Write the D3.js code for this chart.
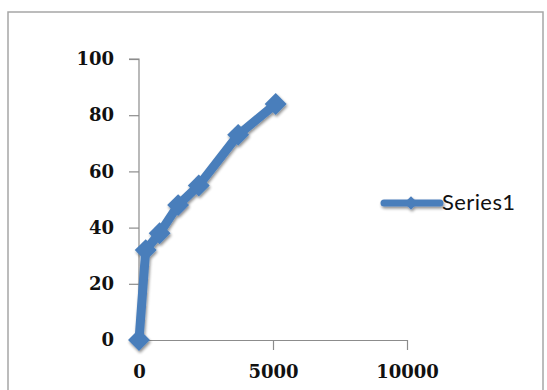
<!DOCTYPE html>
<html><head><meta charset="utf-8">
<script src="https://cdn.jsdelivr.net/npm/d3@7"></script>
<style>html,body{margin:0;padding:0;background:#fff;}svg{display:block;}</style>
</head><body>
<script>
const xValues = [0, 250, 770, 1460, 2230, 3700, 5100];
const yValues = [0, 32, 38, 48, 55, 73, 84];
const xTicks = [0, 5000, 10000];
const yTicks = [0, 20, 40, 60, 80, 100];
const seriesName = "Series1";

const W = 547, H = 390;
const svg = d3.select("body").append("svg").attr("width", W).attr("height", H);
const defs = svg.append("defs");
const f = defs.append("filter").attr("id", "sh").attr("x", "-30%").attr("y", "-30%").attr("width", "160%").attr("height", "160%");
f.append("feGaussianBlur").attr("in", "SourceAlpha").attr("stdDeviation", 1.6).attr("result", "b");
f.append("feOffset").attr("in", "b").attr("dx", 1).attr("dy", 1.5).attr("result", "o");
f.append("feComponentTransfer").attr("in", "o").attr("result", "o2").append("feFuncA").attr("type", "linear").attr("slope", 0.45);
const m = f.append("feMerge"); m.append("feMergeNode").attr("in", "o2"); m.append("feMergeNode").attr("in", "SourceGraphic");

// chart border
svg.append("rect").attr("x", 8).attr("y", 12).attr("width", 535).attr("height", 400)
  .attr("fill", "#fff").attr("stroke", "#a6a6a6").attr("stroke-width", 1.5);

const x = d3.scaleLinear().domain([0, 10000]).range([139, 407]);
const y = d3.scaleLinear().domain([0, 100]).range([340, 59]);

const axisColor = "#8c8c8c";
const font = "'DejaVu Serif', 'Liberation Serif', serif";

const gy = svg.append("g").attr("transform", `translate(${x(0)},0)`)
  .call(d3.axisLeft(y).tickValues(yTicks).tickSize(10).tickPadding(15).tickFormat(d3.format("d")));
const gx = svg.append("g").attr("transform", `translate(0,${y(0)})`)
  .call(d3.axisBottom(x).tickValues(xTicks).tickSize(10).tickPadding(12).tickSizeOuter(0).tickFormat(d3.format("d")));
gy.select(".domain").attr("d", `M-10,${y(100)}H0V${y(0)}`);
[gx, gy].forEach(g => {
  g.selectAll(".domain, line").attr("stroke", axisColor).attr("stroke-width", 1.2);
  g.selectAll("text").attr("fill", "#111").style("font-family", font)
    .style("font-size", "18px").style("font-weight", "bold");
});
gx.selectAll("text").attr("dy", "0.9em");

const data = xValues.map((v, i) => [v, yValues[i]]);
const blue = "#4a7ebb";
const g = svg.append("g").attr("filter", "url(#sh)");
g.append("path").datum(data)
  .attr("d", d3.line().x(d => x(d[0])).y(d => y(d[1])))
  .attr("fill", "none").attr("stroke", blue).attr("stroke-width", 9).attr("stroke-linejoin", "round");
g.selectAll("path.mk").data(data).join("path").attr("class", "mk")
  .attr("d", d3.symbol(d3.symbolSquare, 240))
  .attr("transform", d => `translate(${x(d[0])},${y(d[1])}) rotate(45)`)
  .attr("fill", blue);

// legend
const lg = svg.append("g").attr("filter", "url(#sh)");
lg.append("line").attr("x1", 384).attr("x2", 440).attr("y1", 203).attr("y2", 203)
  .attr("stroke", blue).attr("stroke-width", 7).attr("stroke-linecap", "round");
lg.append("path").attr("d", d3.symbol(d3.symbolSquare, 90))
  .attr("transform", "translate(411,203) rotate(45)").attr("fill", blue);
svg.append("text").attr("x", 442).attr("y", 210).text(seriesName)
  .style("font-family", "Lato, 'Liberation Sans', sans-serif").style("font-size", "22px")
  .style("letter-spacing", "0.4px").attr("fill", "#111");
</script>
</body></html>
